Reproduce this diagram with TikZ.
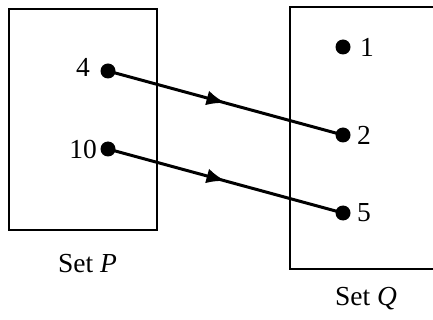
\documentclass[tikz,border=0pt]{standalone}
\usepackage{fontspec}
\setmainfont{Liberation Serif}
\usetikzlibrary{arrows.meta,decorations.markings}
\begin{document}
\begin{tikzpicture}[x=1pt,y=-1pt,
  setbox/.style={draw=black,line width=2.6pt},
  elem/.style={circle,fill=black,inner sep=0pt,minimum size=15pt},
  lbl/.style={font=\fontsize{27.5}{32}\selectfont,inner sep=0pt},
  mapto/.style={line width=3pt,
    decoration={markings,mark=at position 0.5 with {\arrow{Latex[length=19pt,width=15pt]}}},
    postaction={decorate}}]
\useasboundingbox (0,0) rectangle (433,320);
\begin{scope}
\clip (0,0) rectangle (433,320);
\draw[setbox] (9,9) rectangle (157,230);
\draw[setbox] (290,7) rectangle (445,269);
\end{scope}
\node[elem] (p4) at (108,71) {};
\node[elem] (p10) at (108,149) {};
\node[elem] (q1) at (343,47) {};
\node[elem] (q2) at (343,135) {};
\node[elem] (q5) at (343,213) {};
\node[lbl,anchor=east] (l4) at (90,67) {4};
\node[lbl,anchor=east] (l10) at (97,149) {10};
\node[lbl,anchor=west] (l1) at (360,47) {1};
\node[lbl,anchor=west] (l2) at (357,135) {2};
\node[lbl,anchor=west] (l5) at (357,213) {5};
\node[lbl,anchor=base] (sp) at (87.5,272) {Set \textit{P}};
\node[lbl,anchor=base] (sq) at (366,305) {Set \textit{Q}};
\draw[mapto] (p4.center) -- (q2.center);
\draw[mapto] (p10.center) -- (q5.center);
\end{tikzpicture}
\end{document}
